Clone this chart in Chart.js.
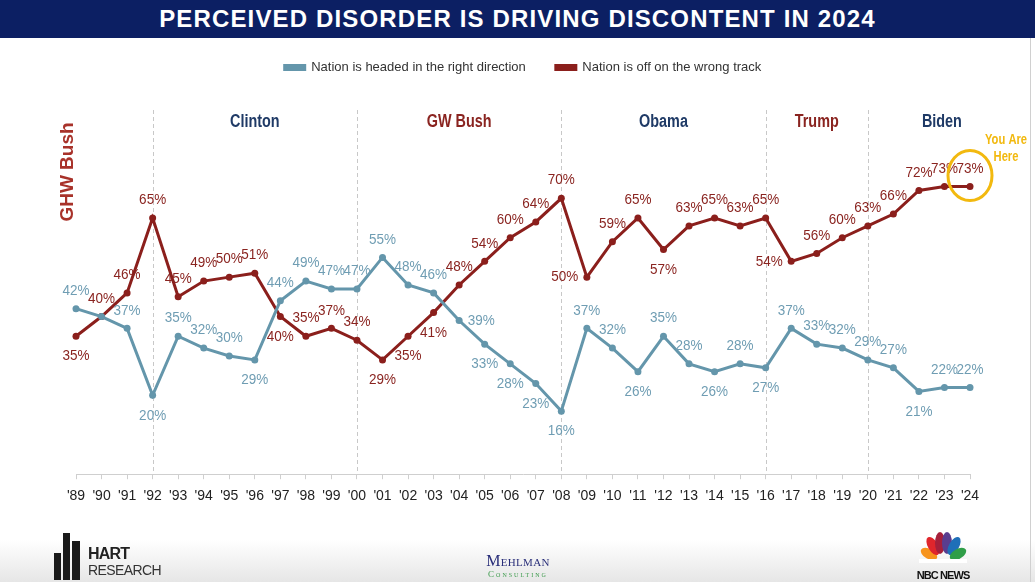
<!DOCTYPE html>
<html>
<head>
<meta charset="utf-8">
<script src="https://cdn.jsdelivr.net/npm/chart.js@4.4.1/dist/chart.umd.min.js"></script>
<style>
  html,body{margin:0;padding:0;background:#fff;}
  #wrap{position:relative;width:1035px;height:582px;overflow:hidden;background:#fff;}
  #band{position:absolute;left:0;top:540px;width:1035px;height:42px;background:linear-gradient(#ffffff,#e6e6e6);}
  #titlebar{position:absolute;left:0;top:0;width:1035px;height:38px;background:#0c1f63;color:#fff;
    font-family:"Liberation Sans",Arial,sans-serif;font-weight:bold;font-size:24px;letter-spacing:1.15px;text-align:center;line-height:38px;z-index:2;}
  #border{position:absolute;left:1030px;top:38px;width:1px;height:544px;background:#d0d0d0;}
  canvas{position:absolute;left:0;top:0;}
  .logo{position:absolute;z-index:2;}
  #hart{left:54px;top:533px;}
  #hart .bar{position:absolute;background:#1a1a1a;}
  #hart .t1{position:absolute;left:34px;top:13px;font-family:"Liberation Sans",Arial,sans-serif;font-weight:bold;font-size:16px;color:#222;letter-spacing:-0.8px;line-height:16px;}
  #hart .t2{position:absolute;left:34px;top:30px;font-family:"Liberation Sans",Arial,sans-serif;font-size:14px;color:#333;line-height:14px;letter-spacing:-0.6px;}
  #mehl{left:468px;top:553px;width:100px;text-align:center;font-family:"Liberation Serif","DejaVu Serif",serif;}
  #mehl .m1{font-size:16px;color:#2a2f7a;font-variant:small-caps;letter-spacing:0.3px;line-height:16px;}
  #mehl .m2{font-size:9px;color:#3a9a4a;font-variant:small-caps;letter-spacing:2px;line-height:10px;}
  #nbc{left:910px;top:531px;width:66px;text-align:center;}
  #nbc .n{font-family:"Liberation Sans",Arial,sans-serif;font-weight:bold;font-size:11px;color:#111;letter-spacing:-0.9px;line-height:12px;margin-top:2px;white-space:nowrap;}
</style>
</head>
<body>
<div id="wrap">
  <div id="band"></div>
  <div id="border"></div>
  <canvas id="c" width="1035" height="582"></canvas>
  <div id="titlebar">PERCEIVED DISORDER IS DRIVING DISCONTENT IN 2024</div>
  <div id="hart" class="logo">
    <div class="bar" style="left:0;top:20px;width:7px;height:27px"></div>
    <div class="bar" style="left:9px;top:0;width:7px;height:47px"></div>
    <div class="bar" style="left:18px;top:8px;width:8px;height:39px"></div>
    <div class="t1">HART</div>
    <div class="t2">RESEARCH</div>
  </div>
  <div id="mehl" class="logo"><div class="m1">Mehlman</div><div class="m2">Consulting</div></div>
  <div id="nbc" class="logo">
    <svg width="48" height="32" viewBox="0 0 48 32">
      <ellipse cx="10" cy="23" rx="5" ry="9" transform="rotate(-60 10 23)" fill="#f7941d"/>
      <ellipse cx="14" cy="15" rx="5" ry="10" transform="rotate(-30 14 15)" fill="#e0262c"/>
      <ellipse cx="21" cy="12" rx="5" ry="11" fill="#a6203b"/>
      <ellipse cx="28" cy="12" rx="5" ry="11" fill="#5a3d8f"/>
      <ellipse cx="35" cy="15" rx="5" ry="10" transform="rotate(30 35 15)" fill="#1f6fb8"/>
      <ellipse cx="39" cy="23" rx="5" ry="9" transform="rotate(60 39 23)" fill="#2f9e48"/>
      <rect x="0" y="28" width="48" height="4" fill="#fff"/>
    </svg>
    <div class="n">NBC NEWS</div>
  </div>
</div>
<script>
// ---- data ----
const years = ["'89","'90","'91","'92","'93","'94","'95","'96","'97","'98","'99","'00","'01","'02","'03","'04","'05","'06","'07","'08","'09","'10","'11","'12","'13","'14","'15","'16","'17","'18","'19","'20","'21","'22","'23","'24"];
const rightDirection = [42,40,37,20,35,32,30,29,44,49,47,47,55,48,46,39,33,28,23,16,37,32,26,35,28,26,28,27,37,33,32,29,27,21,22,22];
const wrongTrack    = [35,40,46,65,45,49,50,51,40,35,37,34,29,35,41,48,54,60,64,70,50,59,65,57,63,65,63,65,54,56,60,63,66,72,73,73];
const seriesNames = ["Nation is headed in the right direction","Nation is off on the wrong track"];
const presidents = ["GHW Bush","Clinton","GW Bush","Obama","Trump","Biden"];
const termStarts = ["'92","'00","'08","'16","'20"];

// ---- label placement (style) ----
const bluePos = ["a","n","a","b","a","a","a","b","a","a","a","a","a","a","a","r","b","b","b","b","a","a","b","a","a","b","a","b","a","a","a","a","a","b","a","a"];
const redPos  = ["b","a","a","a","a","a","a","a","b","a","a","a","b","b","b","a","a","a","a","a","l","a","a","b","a","a","a","a","l","a","a","a","a","a","a","a"];

const BLUE = "#6496ab", RED = "#8b1f1c", BLUE_T = "#6f9db3", RED_T = "#8a2420";
const NAVY = "#1f3a66", GOLD = "#f2b90f";
const SANS = '"Liberation Sans",Arial,sans-serif';

function narrowText(ctx, text, x, y, sx) {
  ctx.save();
  ctx.translate(x, y);
  ctx.scale(sx, 1);
  ctx.fillText(text, 0, 0);
  ctx.restore();
}

const overlay = {
  id: 'overlay',
  beforeDatasetsDraw(chart) {
    const {ctx, scales:{x,y}, chartArea} = chart;
    ctx.save();
    ctx.strokeStyle = "#c8c8c8"; ctx.lineWidth = 1; ctx.setLineDash([4,3]);
    const top = 110;
    termStarts.forEach(t => {
      const px = Math.round(x.getPixelForValue(years.indexOf(t))) + 0.5;
      ctx.beginPath(); ctx.moveTo(px, top); ctx.lineTo(px, chartArea.bottom); ctx.stroke();
    });
    ctx.restore();
  },
  afterDatasetsDraw(chart) {
    const {ctx, scales:{x,y}} = chart;
    ctx.save();
    ctx.textAlign = 'center'; ctx.textBaseline = 'middle';
    // data labels
    ctx.font = '15px ' + SANS;
    const drawLabels = (vals, pos, color) => {
      ctx.fillStyle = color;
      vals.forEach((v,i) => {
        const p = pos[i]; if (p === 'n') return;
        const px = x.getPixelForValue(i), py = y.getPixelForValue(v);
        let dx = 0, dy = 0;
        if (p === 'a') dy = -18; else if (p === 'b') dy = 20; else if (p === 'l') dx = -22; else if (p === 'r') dx = 22;
        narrowText(ctx, v + '%', px + dx, py + dy, 0.9);
      });
    };
    drawLabels(rightDirection, bluePos, BLUE_T);
    drawLabels(wrongTrack, redPos, RED_T);
    // president names
    ctx.font = 'bold 18px ' + SANS;
    const ty = 122;
    const pres = [[presidents[1], 7, NAVY],[presidents[2], 15, RED_T],[presidents[3], 23, NAVY],[presidents[4], 29, RED_T],[presidents[5], 33.9, NAVY]];
    pres.forEach(([n, idx, c]) => { ctx.fillStyle = c; narrowText(ctx, n, x.getPixelForValue(idx), ty, 0.8); });
    // GHW Bush rotated
    ctx.save();
    ctx.translate(68, 172);
    ctx.rotate(-Math.PI/2);
    ctx.font = 'bold 19px ' + SANS;
    ctx.fillStyle = "#a8322a";
    ctx.fillText(presidents[0], 0, 0);
    ctx.restore();
    // You Are Here
    const lx = x.getPixelForValue(35), ly = y.getPixelForValue(wrongTrack[35]);
    ctx.strokeStyle = GOLD; ctx.lineWidth = 3;
    ctx.beginPath(); ctx.ellipse(lx, ly - 11, 22, 25, 0, 0, Math.PI*2); ctx.stroke();
    ctx.fillStyle = GOLD; ctx.font = 'bold 14px ' + SANS;
    narrowText(ctx, 'You Are', lx + 36, 140, 0.8);
    narrowText(ctx, 'Here', lx + 36, 157, 0.8);
    ctx.restore();
  }
};

new Chart(document.getElementById('c'), {
  type: 'line',
  data: {
    labels: years,
    datasets: [
      { label: seriesNames[0], data: rightDirection, borderColor: BLUE, backgroundColor: BLUE, borderWidth: 3,
        pointRadius: 3.5, pointBackgroundColor: BLUE, pointBorderWidth: 0, tension: 0 },
      { label: seriesNames[1], data: wrongTrack, borderColor: RED, backgroundColor: RED, borderWidth: 3,
        pointRadius: 3.5, pointBackgroundColor: RED, pointBorderWidth: 0, tension: 0 }
    ]
  },
  options: {
    responsive: false, animation: false,
    layout: { padding: { left: 76, right: 65, top: 31, bottom: 68 } },
    plugins: {
      legend: { display: true, position: 'top',
        labels: { boxWidth: 20, boxHeight: 4, padding: 30, color: '#333',
          font: { size: 13, family: SANS } } },
      tooltip: { enabled: false }
    },
    scales: {
      x: { offset: false,
        grid: { display: true, drawOnChartArea: false, drawTicks: true, tickLength: 5, color: '#cfcfcf' },
        border: { display: true, color: '#cfcfcf', width: 1 },
        ticks: { color: '#222', font: { size: 14, family: SANS }, padding: 9, maxRotation: 0, autoSkip: false }
      },
      y: { display: false, min: 0, max: 99 }
    }
  },
  plugins: [overlay]
});
</script>
</body>
</html>
